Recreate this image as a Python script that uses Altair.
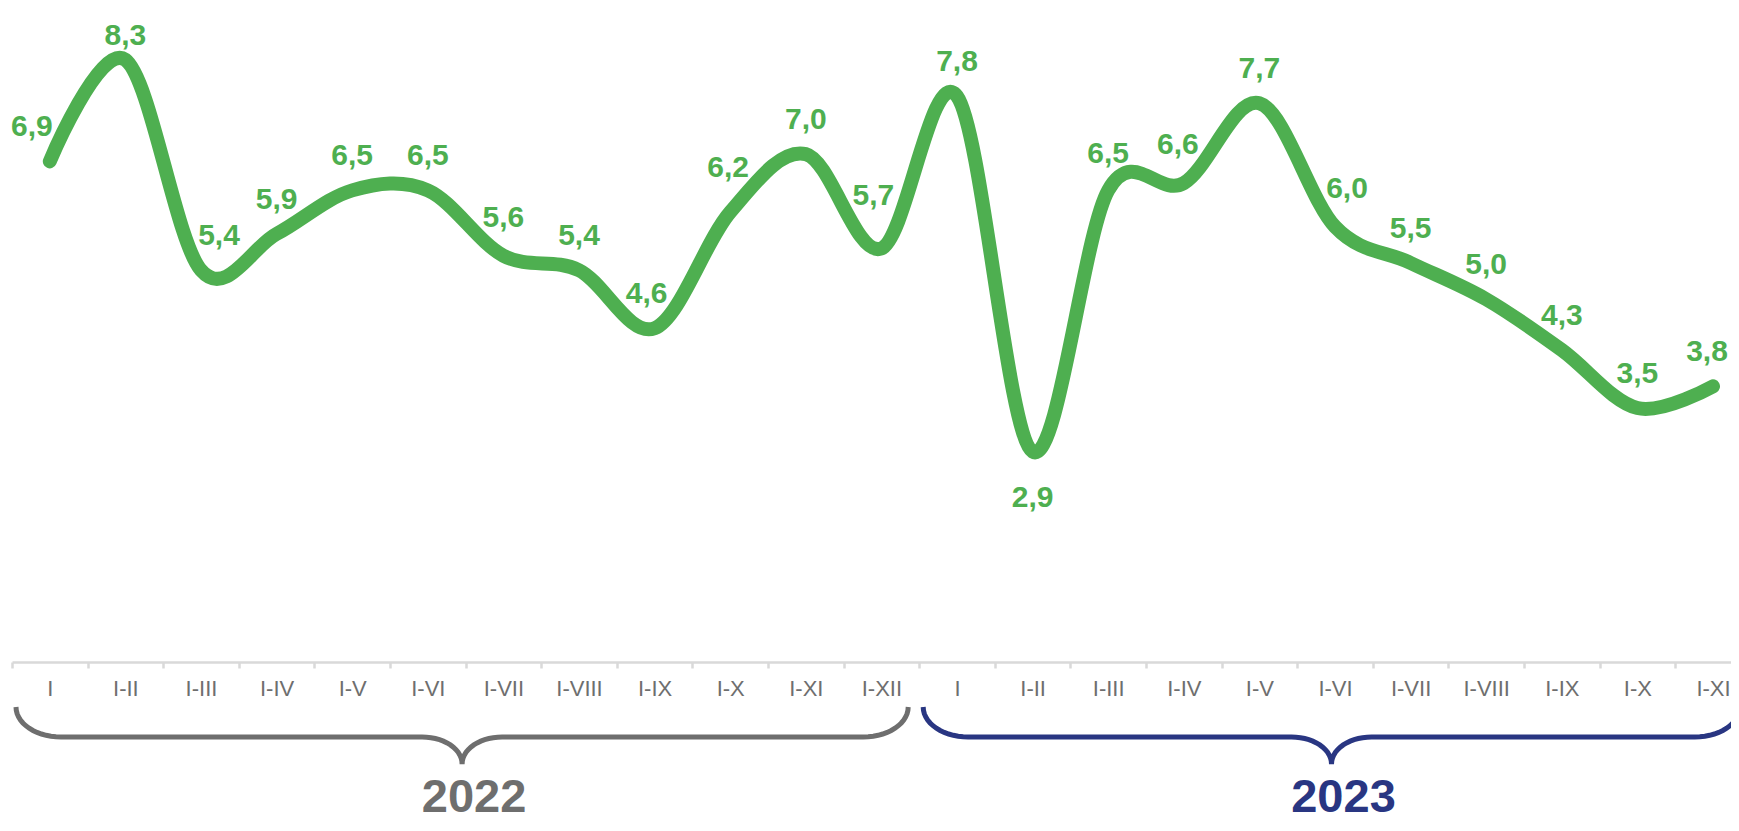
import json
import math
import altair as alt
import pandas as pd

# ---------------- data ----------------
periods = ["I", "I-II", "I-III", "I-IV", "I-V", "I-VI", "I-VII", "I-VIII", "I-IX", "I-X", "I-XI", "I-XII",
           "I", "I-II", "I-III", "I-IV", "I-V", "I-VI", "I-VII", "I-VIII", "I-IX", "I-X", "I-XI"]
values = [6.9, 8.3, 5.4, 5.9, 6.5, 6.5, 5.6, 5.4, 4.6, 6.2, 7.0, 5.7,
          7.8, 2.9, 6.5, 6.6, 7.7, 6.0, 5.5, 5.0, 4.3, 3.5, 3.8]
year_names = ["2022", "2023"]
year_counts = [12, 11]
year_colors = ["#6e6e6e", "#293682"]
labels_below = [13]          # data labels drawn under the line

# ---------------- layout ----------------
GREEN = "#4eaf50"
FONT = "Liberation Sans"
W, H = 1719, 653
STEP = 75.6                  # px per category
X0 = -0.5
X1 = X0 + W / STEP
YMAX = 9.0
PXU = H / YMAX               # px per unit of value

n = len(values)


# ---- simple label placement: keep each data label clear of the curve ----
def x_px(i):
    return (i - X0) * STEP


def y_px(v):
    return H - v * PXU


P = [(x_px(i), y_px(v)) for i, v in enumerate(values)]
curve = []
for s in range(n - 1):
    p0, p1, p2, p3 = P[max(s - 1, 0)], P[s], P[s + 1], P[min(s + 2, n - 1)]
    for j in range(24):
        t = j / 24
        pt = []
        for d in range(2):
            a0, a1, a2, a3 = p0[d], p1[d], p2[d], p3[d]
            pt.append(0.5 * (2 * a1 + (-a0 + a2) * t + (2 * a0 - 5 * a1 + 4 * a2 - a3) * t * t
                             + (-a0 + 3 * a1 - 3 * a2 + a3) * t ** 3))
        curve.append(tuple(pt))
curve.append(P[-1])

HW, H_TOP, H_BOT = 23, 13, 9


def clearance(cx, cy):
    best = 1e9
    for x, y in curve:
        ddx = max(abs(x - cx) - HW, 0)
        if y < cy:
            ddy = max((cy - H_TOP) - y, 0)
        else:
            ddy = max(y - (cy + H_BOT), 0)
        best = min(best, math.hypot(ddx, ddy))
    return best


def place(i, dys, dxs, sign, clear):
    chosen = None
    for dy in dys:
        for dx in dxs:
            cx, cy = P[i][0] + dx, P[i][1] + sign * dy
            if cx + HW > W - 1 or cy < 19:
                continue
            if clearance(cx, cy) >= clear:
                cost = dy + 1.2 * abs(dx)
                if chosen is None or cost < chosen[0]:
                    chosen = (cost, cx, cy)
    return chosen


lx, ly = [], []
for i, v in enumerate(values):
    below = i in labels_below
    sign = 1 if below else -1
    chosen = place(i, range(46 if below else 34, 110, 2), range(-20, 21, 2), sign, 7)
    if chosen is None:
        chosen = place(i, range(22, 110, 2), range(-34, 35, 2), sign, 11)
    if chosen is None:
        chosen = (0, P[i][0], P[i][1] + sign * 40)
    lx.append(chosen[1] / STEP + X0)
    ly.append((H - chosen[2]) / PXU)

df = pd.DataFrame({
    "i": list(range(n)),
    "value": values,
    "label": [f"{v:.1f}".replace(".", ",") for v in values],
    "lx": lx,
    "ly": ly,
})

# ---- brace geometry (x in category units, y in pixels below plot top) ----
Y_TOP, Y_H, Y_TIP = 698, 728, 755
RX, TRX = 45 / STEP, 40 / STEP
rows, centers = [], []
start = 0
for name, cnt in zip(year_names, year_counts):
    a = start - 0.5 + 4 / STEP
    b = start + cnt - 0.5 - 11 / STEP
    m = (a + b) / 2
    pts = []
    K = 14
    for j in range(K + 1):
        t = math.pi / 2 * j / K
        pts.append((a + RX * (1 - math.cos(t)), Y_TOP + (Y_H - Y_TOP) * math.sin(t)))
    for j in range(K + 1):
        t = math.pi / 2 * j / K
        pts.append((m - TRX + TRX * math.sin(t), Y_H + (Y_TIP - Y_H) * (1 - math.cos(t))))
    for j in range(K + 1):
        t = math.pi / 2 * j / K
        pts.append((m + TRX * (1 - math.cos(t)), Y_H + (Y_TIP - Y_H) * (1 - math.sin(t))))
    for j in range(K + 1):
        t = math.pi / 2 * j / K
        pts.append((b - RX + RX * math.sin(t), Y_H - (Y_H - Y_TOP) * (1 - math.cos(t))))
    for k, (px, py) in enumerate(pts):
        rows.append({"bx": px, "py": py, "year": name, "k": k})
    centers.append({"cx": m, "year": name})
    start += cnt
braces = pd.DataFrame(rows)
year_df = pd.DataFrame(centers)

color_scale = alt.Scale(domain=year_names, range=year_colors)
y_scale = alt.Scale(domain=[0, YMAX], nice=False, zero=True)

x_enc = alt.X(
    "i:Q",
    scale=alt.Scale(domain=[X0, X1], nice=False, zero=False),
    axis=alt.Axis(
        values=list(range(n)),
        labelExpr=json.dumps(periods) + "[datum.value]",
        tickOffset=-STEP / 2,
        labelOffset=STEP / 2,
        tickSize=6,
        tickWidth=2.5,
        tickColor="#d9d9d9",
        domainColor="#d9d9d9",
        domainWidth=2.5,
        labelFont=FONT,
        labelFontSize=22,
        labelColor="#6e6e6e",
        labelPadding=10,
        labelFlush=False,
        labelOverlap=False,
        grid=False,
        title=None,
    ),
)

base = alt.Chart(df)

line = base.mark_line(interpolate="cardinal", strokeWidth=14, strokeCap="round",
                      strokeJoin="round", color=GREEN).encode(
    x=x_enc, y=alt.Y("value:Q", scale=y_scale, axis=None))

labels = base.mark_text(fontSize=30, fontWeight="bold", font=FONT, color=GREEN).encode(
    x="lx:Q", y=alt.Y("ly:Q", scale=y_scale, axis=None), text="label:N")

brace = alt.Chart(braces).mark_line(strokeWidth=5, strokeCap="butt", interpolate="linear").encode(
    x="bx:Q",
    y=alt.Y("py:Q", scale=None, axis=None),
    color=alt.Color("year:N", scale=color_scale, legend=None),
    order="k:Q",
)

year_text = alt.Chart(year_df).mark_text(
    fontSize=47, fontWeight="bold", font=FONT, baseline="alphabetic", dx=12
).encode(
    x="cx:Q",
    y=alt.value(803),
    text="year:N",
    color=alt.Color("year:N", scale=color_scale, legend=None),
)

chart = alt.layer(line, labels, brace, year_text).resolve_scale(
    y="independent"
).properties(
    width=W,
    height=H,
    autosize=alt.AutoSizeParams(type="none"),
    padding={"left": 4, "top": 1, "right": 0, "bottom": 161},
).configure_view(stroke=None)

chart.save("out.html", embed_options={"renderer": "svg", "actions": False})
